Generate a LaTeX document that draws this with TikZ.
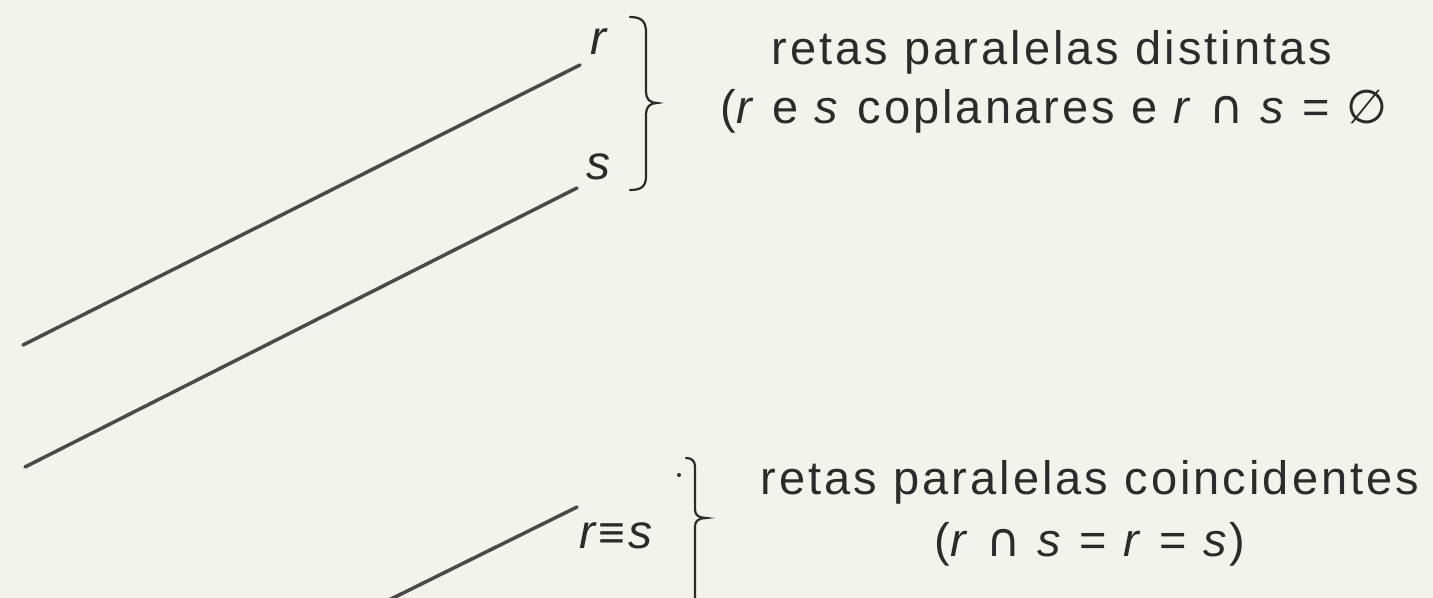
\documentclass[tikz,border=0pt]{standalone}
\usepackage{fontspec}
\setmainfont{Liberation Sans}[LetterSpace=6.5]
\newfontfamily\symf{DejaVu Sans}
\definecolor{bg}{HTML}{F3F3EC}
\definecolor{ink}{HTML}{2B2B2B}
\definecolor{ln}{HTML}{4A4A4A}
\begin{document}
\begin{tikzpicture}[x=1bp,y=-1bp,
  txt/.style={inner sep=0pt, text=ink, font=\fontsize{47bp}{54bp}\selectfont, anchor=base},
  lbl/.style={inner sep=0pt, text=ink, font=\fontsize{48bp}{54bp}\selectfont\itshape, anchor=base west},
  reta/.style={draw=ln, line width=3.5bp, line cap=round},
  chave/.style={draw=ink, line width=2.2bp, line cap=round}]
\clip (0,0) rectangle (1433,598);
\fill[bg] (0,0) rectangle (1433,598);
% lines
\coordinate (r0) at (23,345);
\coordinate (r1) at (580,65);
\coordinate (s0) at (25,467);
\coordinate (s1) at (577,188);
\coordinate (c0) at (370,609.4);
\coordinate (c1) at (577,507);
\draw[reta] (r0) -- (r1);
\draw[reta] (s0) -- (s1);
\draw[reta] (c0) -- (c1);
% labels
\node[lbl] (lr) at (590,55) {r};
\node[lbl] (ls) at (586,180) {s};
\node[lbl] (lrs) at (579,548) {r\hspace{3bp}{\upshape\fontsize{46bp}{48bp}\selectfont ≡}\hspace{3bp}s};
% braces
\draw[chave] (630,17) .. controls (642,17) and (646,22) .. (646,32) -- (646,92)
  .. controls (646,99) and (650,103) .. (657,103)
  .. controls (650,103) and (646,107) .. (646,114) -- (646,176)
  .. controls (646,186) and (642,190) .. (630,190);
\draw[chave] (686,458) .. controls (692,458) and (695,461) .. (695,467) -- (695,510)
  .. controls (695,515) and (699,518) .. (706,518)
  .. controls (699,518) and (695,521) .. (695,526) -- (695,610);
\fill[ink] (679,475) circle (2bp);
% texts
\node[txt] (t1) at (1052,65) {retas paralelas distintas};
\node[txt] (t2) at (1054,124) {(\textit{r} e \textit{s} coplanares e \textit{r} {\symf ∩} \textit{s} = {\symf ∅}};
\node[txt] (t3) at (1090,494) {retas paralelas coincidentes};
\node[txt] (t4) at (1090,556) {(\textit{r} {\symf ∩} \textit{s} = \textit{r} = \textit{s})};
\end{tikzpicture}
\end{document}
